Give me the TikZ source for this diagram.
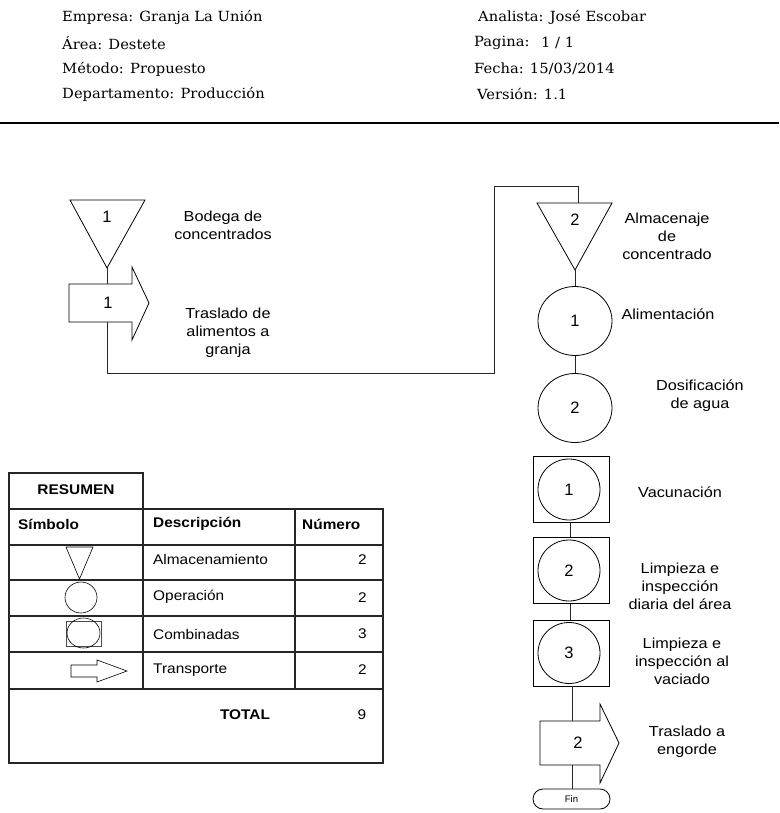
\documentclass[tikz,border=0pt]{standalone}
\usepackage{fontspec}
\setmainfont{DejaVu Serif}
\newfontfamily\labfont{Liberation Sans}
\usetikzlibrary{shapes.geometric,shapes.misc}
\begin{document}
\begin{tikzpicture}[x=1pt,y=-1pt,
  hdr/.style={anchor=west,inner sep=0pt,xscale=1.05,font=\fontsize{14}{16}\selectfont},
  lbl/.style={align=center,inner sep=0pt,xscale=1.12,font=\labfont\fontsize{14.5}{18}\selectfont},
  num/.style={inner sep=0pt,font=\labfont\fontsize{16.5}{16}\selectfont},
  cell/.style={inner sep=0pt,xscale=1.1,font=\labfont\fontsize{14}{16}\selectfont},
  bcell/.style={cell,font=\labfont\bfseries\fontsize{14}{16}\selectfont},
  shp/.style={draw=black,line width=0.8pt},
  con/.style={draw=black!85,line width=0.9pt},
  tbl/.style={draw=black!85,line width=1.1pt},
  opc/.style={shp,ellipse,minimum width=74pt,minimum height=69pt,inner sep=0pt,font=\labfont\fontsize{16.5}{16}\selectfont},
  cmbbox/.style={shp,rectangle,minimum width=76pt,minimum height=66pt,inner sep=0pt},
  cmbcirc/.style={shp,ellipse,minimum width=62pt,minimum height=61pt,inner sep=0pt,font=\labfont\fontsize{16.5}{16}\selectfont},
]
\useasboundingbox (0,0) rectangle (779,813);

% header
\node[hdr] (h1) at (62,17) {Empresa: Granja La Unión};
\node[hdr] (h2) at (62,43) {Área: Destete};
\node[hdr] (h3) at (62,69) {Método: Propuesto};
\node[hdr] (h4) at (62,94) {Departamento: Producción};
\node[hdr] (h5) at (478,17) {Analista: José Escobar};
\node[hdr] (h6) at (474,43) {Pagina:};
\node[hdr] (h6b) at (541,43) {1 / 1};
\node[hdr] (h7) at (474,69) {Fecha: 15/03/2014};
\node[hdr] (h8) at (477,94) {Versión: 1.1};
\draw[line width=1.5pt] (0,123) -- (779,123);

% left flow
\draw[shp] (70,200) -- (145,200) -- (107,268) -- cycle;
\coordinate (t1) at (107,268);
\node[num] (t1n) at (107,217) {1};
\node[lbl] (t1l) at (223,225) {Bodega de\\concentrados};

\draw[shp] (69,284) -- (132,284) -- (132,267) -- (149,303) -- (132,340) -- (132,322) -- (69,322) -- cycle;
\coordinate (a1t) at (107,284);
\coordinate (a1b) at (107,322);
\node[num] (a1n) at (108,303) {1};
\node[lbl] (a1l) at (228,333) {Traslado de\\alimentos a\\granja};

\draw[con] (t1) -- (a1t);

% right flow
\draw[shp] (537,203) -- (612,203) -- (575,270) -- cycle;
\coordinate (t2) at (575,270);
\coordinate (t2top) at (578,203);
\node[num] (t2n) at (575,220) {2};
\node[lbl] (t2l) at (667,236) {Almacenaje\\de\\concentrado};

\coordinate (c1) at (107,373);
\coordinate (c2) at (494,373);
\coordinate (c3) at (494,186);
\coordinate (c4) at (578,186);
\draw[con] (a1b) -- (c1) -- (c2) -- (c3) -- (c4) -- (t2top);

\node[opc] (o1) at (575,321) {1};
\node[lbl] (o1l) at (668,314) {Alimentación};
\node[opc] (o2) at (575,408) {2};
\node[lbl] (o2l) at (700,396) {Dosificación\\de agua};
\draw[con] (t2) -- (o1.north);
\draw[con] (o1.south) -- (o2.north);

\node[cmbbox] (k1) at (571,489.5) {};
\node[cmbcirc] (k1c) at (569,489.5) {1};
\node[lbl] (k1l) at (680,492) {Vacunación};
\node[cmbbox] (k2) at (571,570.5) {};
\node[cmbcirc] (k2c) at (569,570.5) {2};
\node[lbl] (k2l) at (680,586) {Limpieza e\\inspección\\diaria del área};
\node[cmbbox] (k3) at (571,653) {};
\node[cmbcirc] (k3c) at (569,653) {3};
\node[lbl] (k3l) at (682,661) {Limpieza e\\inspección al\\vaciado};
\draw[con] (k1.south) ++(-1,0) coordinate (k1s) -- (k1s |- k2.north);
\draw[con] (k2.south) ++(-1,0) coordinate (k2s) -- (k2s |- k3.north);

\draw[shp] (540,721) -- (600,721) -- (600,704) -- (619,743) -- (600,783) -- (600,765) -- (540,765) -- cycle;
\coordinate (a2t) at (572,721);
\coordinate (a2b) at (572,765);
\node[num] (a2n) at (578,743) {2};
\node[lbl] (a2l) at (687,742) {Traslado a\\engorde};
\draw[con] (k3.south -| a2t) -- (a2t);

\node[shp,rounded rectangle,minimum width=77pt,minimum height=20pt,inner sep=0pt,
  font=\labfont\fontsize{9.5}{9}\selectfont] (fin) at (571.5,799) {Fin};
\draw[con] (a2b) -- (a2b |- fin.north);

% table
\draw[tbl] (9,473) rectangle (143,509);
\draw[tbl] (9,509) rectangle (383,763);
\foreach \yy in {545,580,616,652,689} \draw[tbl] (9,\yy) -- (383,\yy);
\draw[tbl] (143,509) -- (143,689);
\draw[tbl] (295,509) -- (295,689);
\node[bcell] (r0) at (76,490) {RESUMEN};
\node[bcell,anchor=west] (r1) at (18,524) {Símbolo};
\node[bcell,anchor=west] (r2) at (153,524) {Descripción};
\node[bcell,anchor=west] (r3) at (302,524) {Número};
\node[cell,anchor=west] (d1) at (153,559) {Almacenamiento};
\node[cell,anchor=west] (d2) at (153,597) {Operación};
\node[cell,anchor=west] (d3) at (153,634) {Combinadas};
\node[cell,anchor=west] (d4) at (153,670) {Transporte};
\node[cell,anchor=east] (n1) at (367,560) {2};
\node[cell,anchor=east] (n2) at (367,598) {2};
\node[cell,anchor=east] (n3) at (367,634) {3};
\node[cell,anchor=east] (n4) at (367,670) {2};
\node[bcell] (tt) at (245,715) {TOTAL};
\node[cell] (tn) at (362,715) {9};

% table symbols
\draw[shp,line width=0.6pt] (66,547) -- (93,547) -- (79.5,579) -- cycle;
\draw[shp,line width=0.6pt] (81,597.5) ellipse (16 and 15.5);
\draw[draw=black!70,line width=0.8pt] (66,621) rectangle (101,646);
\draw[shp,line width=0.6pt] (83.5,633) ellipse (16.5 and 15);
\draw[shp,line width=0.6pt] (71,665) -- (97,665) -- (97,660) -- (127,671) -- (97,682) -- (97,677) -- (71,677) -- cycle;
\end{tikzpicture}
\end{document}
